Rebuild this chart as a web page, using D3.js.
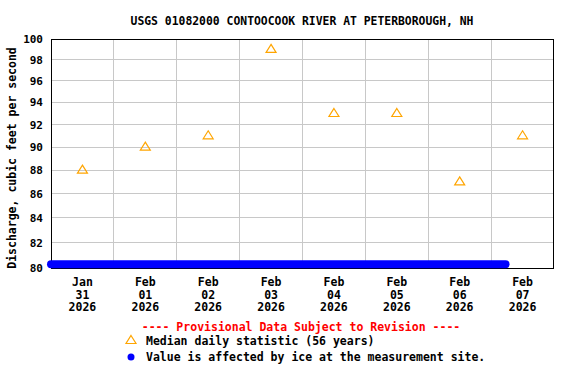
<!DOCTYPE html>
<html><head><meta charset="utf-8">
<script src="https://cdn.jsdelivr.net/npm/d3@7"></script>
<style>body{margin:0;background:#fff}svg text{font-family:"DejaVu Sans Mono",monospace;font-weight:bold}</style>
</head><body><svg id="c" width="576" height="384"></svg>
<script>
const title = "USGS 01082000 CONTOOCOOK RIVER AT PETERBOROUGH, NH";
const yLabel = "Discharge, cubic feet per second";
const dayLabels = [["Jan","31","2026"],["Feb","01","2026"],["Feb","02","2026"],["Feb","03","2026"],["Feb","04","2026"],["Feb","05","2026"],["Feb","06","2026"],["Feb","07","2026"]];
const medianDates = ["2026-01-31T12:00","2026-02-01T12:00","2026-02-02T12:00","2026-02-03T12:00","2026-02-04T12:00","2026-02-05T12:00","2026-02-06T12:00","2026-02-07T12:00"];
const medianValues = [88, 90, 91, 99, 93, 93, 87, 91];
const iceDates = ["2026-01-31T00:00","2026-02-01T00:00","2026-02-02T00:00","2026-02-03T00:00","2026-02-04T00:00","2026-02-05T00:00","2026-02-06T00:00","2026-02-07T00:00","2026-02-07T05:30"];
const iceValues = [80.3, 80.3, 80.3, 80.3, 80.3, 80.3, 80.3, 80.3, 80.3];
const yTicks = [80,82,84,86,88,90,92,94,96,98,100];
const legendTitle = "---- Provisional Data Subject to Revision ----";
const legendMedian = "Median daily statistic (56 years)";
const legendIce = "Value is affected by ice at the measurement site.";

const parse = d3.timeParse("%Y-%m-%dT%H:%M");
const L = 51, R = 554, T = 39, B = 268;
const x = d3.scaleTime().domain([parse("2026-01-31T00:00"), parse("2026-02-08T00:00")]).range([L, R]);
const y = d3.scaleLog().domain([80, 100]).range([B, T]);
const svg = d3.select("#c");

svg.append("text").attr("x", 302).attr("y", 24.5).attr("text-anchor", "middle").attr("font-size", 11.4).text(title);

// grid
const dayTicks = d3.timeDay.range(parse("2026-02-01T00:00"), parse("2026-02-08T00:00"));
svg.append("g").selectAll("line").data(dayTicks).join("line")
  .attr("x1", d => x(d)).attr("x2", d => x(d)).attr("y1", T).attr("y2", B)
  .attr("stroke", "#c8c8c8").attr("stroke-width", 1).attr("shape-rendering", "crispEdges");
svg.append("g").selectAll("line").data(yTicks.slice(1, -1)).join("line")
  .attr("x1", L).attr("x2", R).attr("y1", d => y(d)).attr("y2", d => y(d))
  .attr("stroke", "#c8c8c8").attr("stroke-width", 1).attr("shape-rendering", "crispEdges");

// y axis labels
svg.append("g").selectAll("text").data(yTicks).join("text")
  .attr("x", 43).attr("y", d => y(d) + 4).attr("text-anchor", "end").attr("font-size", 11).text(d => d);
svg.append("text").attr("transform", "translate(16,158) rotate(-90)").attr("text-anchor", "middle")
  .attr("font-size", 11.5).text(yLabel);

// x labels
const labelDates = medianDates.map(parse);
const xl = svg.append("g").selectAll("text").data(dayLabels).join("text")
  .attr("text-anchor", "middle").attr("font-size", 11.5);
xl.each(function(d, i) {
  const t = d3.select(this);
  d.forEach((s, j) => t.append("tspan").attr("x", x(labelDates[i])).attr("y", 286 + j * 12.6).text(s));
});

// frame
svg.append("rect").attr("x", L + 0.5).attr("y", T + 0.5).attr("width", R - L - 1).attr("height", B - T)
  .attr("fill", "none").attr("stroke", "#000").attr("stroke-width", 1);

// ice line
const ice = iceDates.map((d, i) => ({t: parse(d), v: iceValues[i]}));
svg.append("path").datum(ice)
  .attr("d", d3.line().x(d => x(d.t)).y(d => y(d.v)))
  .attr("fill", "none").attr("stroke", "#0000ff").attr("stroke-width", 8).attr("stroke-linecap", "round");

// median triangles
const tri = (cx, cy) => `M${cx},${cy - 4.5}L${cx + 5},${cy + 3.5}L${cx - 5},${cy + 3.5}Z`;
svg.append("g").selectAll("path").data(medianValues).join("path")
  .attr("d", (d, i) => tri(x(labelDates[i]), y(d) - 0.5))
  .attr("fill", "none").attr("stroke", "#ffa500").attr("stroke-width", 1.2);

// legend
svg.append("text").attr("x", 301).attr("y", 331).attr("text-anchor", "middle").attr("fill", "#ff0000")
  .attr("font-size", 11.5).text(legendTitle);
svg.append("path").attr("d", tri(131, 340)).attr("fill", "none").attr("stroke", "#ffa500").attr("stroke-width", 1.2);
svg.append("text").attr("x", 146).attr("y", 344.5).attr("font-size", 11.5).text(legendMedian);
svg.append("circle").attr("cx", 131).attr("cy", 357).attr("r", 3.5).attr("fill", "#0000ff");
svg.append("text").attr("x", 146).attr("y", 361).attr("font-size", 11.5).text(legendIce);
</script></body></html>
